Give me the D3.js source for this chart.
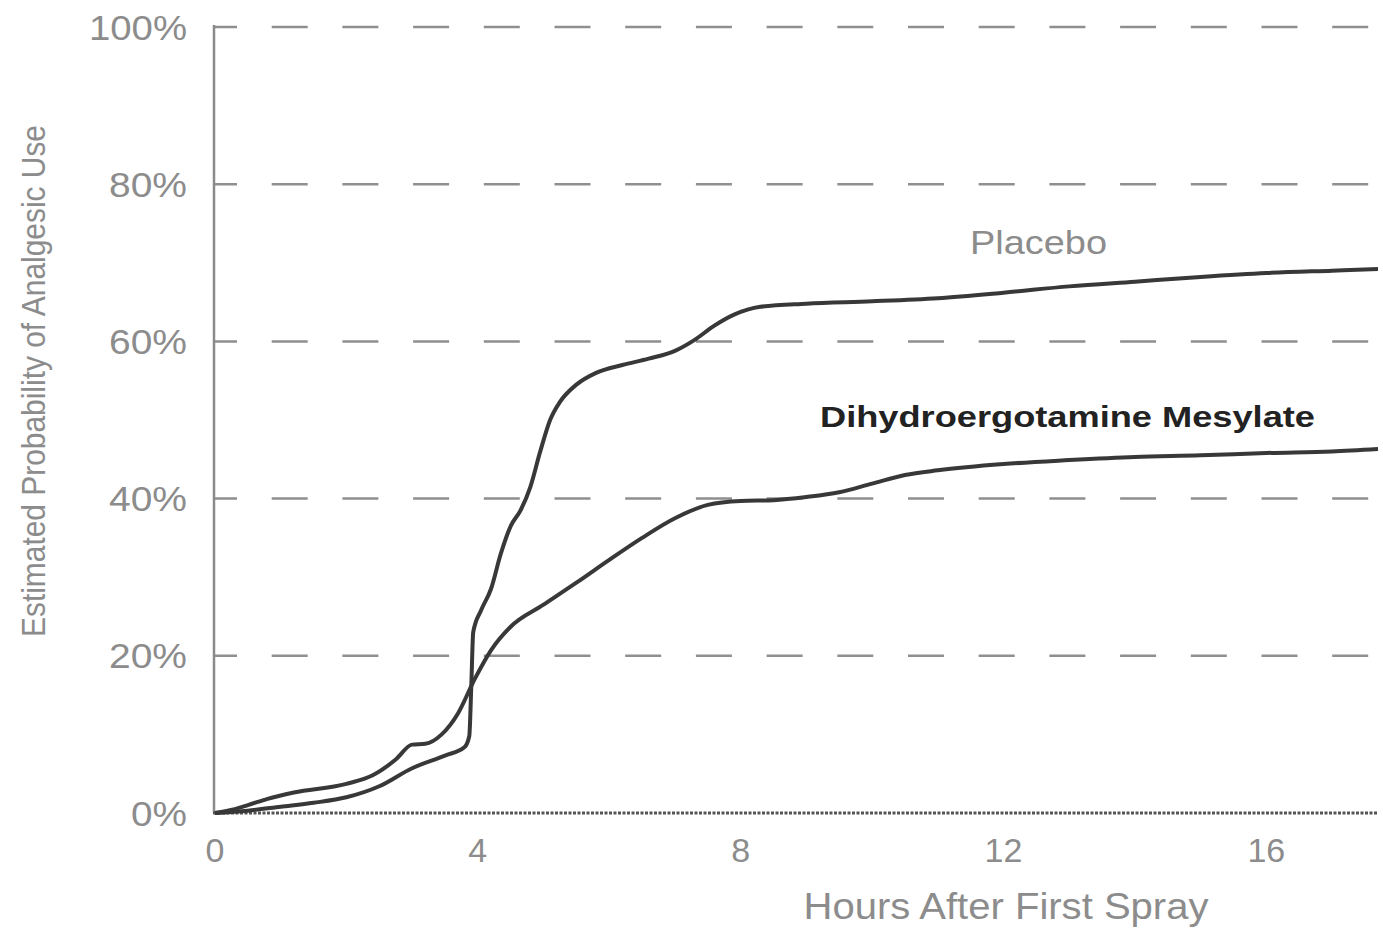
<!DOCTYPE html>
<html>
<head>
<meta charset="utf-8">
<script src="https://cdn.jsdelivr.net/npm/d3@7"></script>
<style>
  html, body { margin: 0; padding: 0; background: #fff; }
  svg { display: block; }
  text { font-family: "Liberation Sans", Arial, sans-serif; }
</style>
</head>
<body>
<svg id="chart" width="1383" height="928"></svg>
<script>
// ---- data ----
const xTicks = [0, 4, 8, 12, 16];
const yTicks = [0, 20, 40, 60, 80, 100];
const yTickLabels = ["0%", "20%", "40%", "60%", "80%", "100%"];
const seriesNames = ["Placebo", "Dihydroergotamine Mesylate"];
const placeboHours = [0,0.5,1,1.5,2,2.5,3,3.5,3.8,3.87,3.9,3.93,4.05,4.2,4.35,4.5,4.65,4.8,4.95,5.1,5.25,5.5,5.8,6.2,6.6,7,7.3,7.6,7.9,8.3,9,10,11,12,13,14,15,16,17,17.7];
const placeboValues = [0,0.3,0.8,1.3,2.0,3.4,5.7,7.3,8.4,9.8,16,23,25.8,28.5,33,36.5,38.5,41.5,46,50,52.3,54.5,56,57,57.8,58.8,60.2,62,63.4,64.4,64.8,65.1,65.5,66.2,67,67.6,68.2,68.7,69,69.2];
const dheHours = [0,0.3,0.5,0.8,1.2,2,2.4,2.75,3.0,3.2,3.45,3.7,3.95,4.2,4.5,5,5.5,6,6.5,7,7.5,8,8.5,9,9.5,10,10.5,11,12,13,14,15,16,17,17.7];
const dheValues = [0,0.5,1.0,1.8,2.6,3.7,4.8,6.8,8.7,8.8,10,12.7,17,20.7,23.7,26.5,29.3,32.2,35,37.5,39.2,39.7,39.8,40.2,40.8,41.9,43,43.6,44.4,44.9,45.3,45.5,45.8,46,46.3];

// ---- layout ----
const svg = d3.select("#chart");
const x = d3.scaleLinear().domain([0, 17.7]).range([215, 1378]);
const y = d3.scaleLinear().domain([0, 100]).range([813, 27]);

// gridlines (dashed, grey)
svg.append("g").selectAll("line")
  .data(yTicks.filter(d => d > 0))
  .join("line")
  .attr("x1", x(0)).attr("x2", x(17.7))
  .attr("y1", d => y(d)).attr("y2", d => y(d))
  .attr("stroke", "#8f8f8f")
  .attr("stroke-width", 2.5)
  .attr("stroke-dasharray", "36,34.7")
  .attr("stroke-dashoffset", 14);

// y axis line
svg.append("line")
  .attr("x1", x(0) - 1).attr("x2", x(0) - 1)
  .attr("y1", y(100) - 2).attr("y2", y(0))
  .attr("stroke", "#8a8a8a").attr("stroke-width", 2.5);

// baseline (dotted dark)
svg.append("line")
  .attr("x1", x(0) - 2).attr("x2", x(17.7))
  .attr("y1", y(0)).attr("y2", y(0))
  .attr("stroke", "#555").attr("stroke-width", 3)
  .attr("stroke-dasharray", "3,1.5");

// y tick labels
svg.append("g").selectAll("text")
  .data(yTicks)
  .join("text")
  .attr("x", 187)
  .attr("y", d => y(d))
  .attr("dy", "0.36em")
  .attr("text-anchor", "end")
  .attr("font-size", 35)
  .attr("fill", "#8c8c8c")
  .attr("textLength", (d, i) => yTickLabels[i].length === 4 ? 98 : (yTickLabels[i].length === 3 ? 78 : 56))
  .attr("lengthAdjust", "spacingAndGlyphs")
  .text((d, i) => yTickLabels[i]);

// x tick labels
svg.append("g").selectAll("text")
  .data(xTicks)
  .join("text")
  .attr("x", d => x(d))
  .attr("y", 850)
  .attr("dy", "0.36em")
  .attr("text-anchor", "middle")
  .attr("font-size", 34)
  .attr("fill", "#8c8c8c")
  .text(d => d);

// axis titles
svg.append("text")
  .attr("x", 1006).attr("y", 906).attr("dy", "0.36em")
  .attr("text-anchor", "middle")
  .attr("font-size", 36)
  .attr("fill", "#8c8c8c")
  .attr("textLength", 405).attr("lengthAdjust", "spacingAndGlyphs")
  .text("Hours After First Spray");

svg.append("text")
  .attr("transform", "translate(33,381) rotate(-90)")
  .attr("text-anchor", "middle")
  .attr("dy", "0.36em")
  .attr("font-size", 34)
  .attr("fill", "#8c8c8c")
  .attr("textLength", 512).attr("lengthAdjust", "spacingAndGlyphs")
  .text("Estimated Probability of Analgesic Use");

// curves
const line = d3.line()
  .x(d => x(d[0])).y(d => y(d[1]))
  .curve(d3.curveMonotoneX);

const placebo = placeboHours.map((h, i) => [h, placeboValues[i]]);
const dhe = dheHours.map((h, i) => [h, dheValues[i]]);

svg.append("g").selectAll("path")
  .data([placebo, dhe])
  .join("path")
  .attr("d", line)
  .attr("fill", "none")
  .attr("stroke", "#383838")
  .attr("stroke-width", 4)
  .attr("stroke-linejoin", "round");

// series labels
svg.append("text")
  .attr("x", 970).attr("y", 242).attr("dy", "0.36em")
  .attr("font-size", 33)
  .attr("fill", "#8c8c8c")
  .attr("textLength", 137).attr("lengthAdjust", "spacingAndGlyphs")
  .text(seriesNames[0]);

svg.append("text")
  .attr("x", 820).attr("y", 416).attr("dy", "0.36em")
  .attr("font-size", 30)
  .attr("font-weight", "bold")
  .attr("fill", "#222")
  .attr("textLength", 495).attr("lengthAdjust", "spacingAndGlyphs")
  .text(seriesNames[1]);
</script>
</body>
</html>
